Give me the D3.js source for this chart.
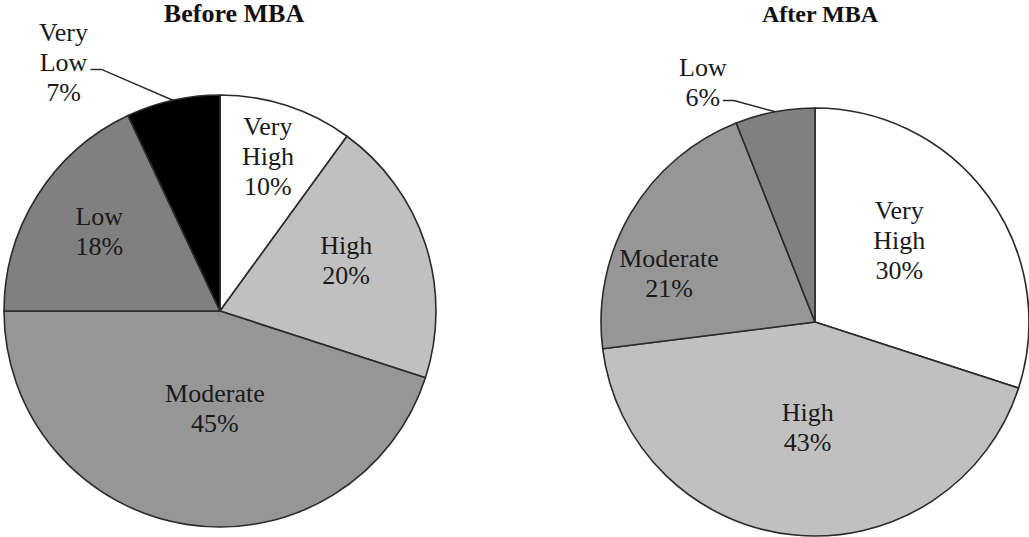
<!DOCTYPE html>
<html><head><meta charset="utf-8">
<script src="https://cdn.jsdelivr.net/npm/d3@7"></script>
<style>body{margin:0;background:#fff}svg{display:block}</style></head>
<body><svg id="chart" width="1029" height="537"></svg>
<script>
// ---- data ----
const titles = ["Before MBA", "After MBA"];
const categoriesBefore = ["Very High", "High", "Moderate", "Low", "Very Low"];
const valuesBefore = [10, 20, 45, 18, 7];
const categoriesAfter = ["Very High", "High", "Moderate", "Low"];
const valuesAfter = [30, 43, 21, 6];

// ---- styles / layout ----
const colorsBefore = ["#ffffff", "#c0c0c0", "#969696", "#808080", "#000000"];
const colorsAfter = ["#ffffff", "#c0c0c0", "#969696", "#808080"];
// label placement: [angle in degrees clockwise from top, radius factor]
const labelPosBefore = [[17.2, 0.75], [68, 0.63], [183, 0.45], [303.5, 0.67], [327.8, 1.36]];
const labelPosAfter = [[45.7, 0.55], [184, 0.49], [288.6, 0.72], [335, 1.24]];
const leaderBefore = [null, null, null, null, [27, 7]];
const leaderAfter = [null, null, null, [20, 19]];

const pies = [
  {title: titles[0], cats: categoriesBefore, vals: valuesBefore, colors: colorsBefore,
   labelPos: labelPosBefore, leader: leaderBefore, cx: 220, cy: 311, r: 216, tx: 234, ty: 22, ts: 26},
  {title: titles[1], cats: categoriesAfter, vals: valuesAfter, colors: colorsAfter,
   labelPos: labelPosAfter, leader: leaderAfter, cx: 815, cy: 322, r: 214, tx: 820, ty: 22, ts: 24}
];

const svg = d3.select("#chart");
const fontFam = "'Liberation Serif','Times New Roman',serif";
const lineH = 30;

pies.forEach(p => {
  const data = p.cats.map((c, i) => ({cat: c, val: p.vals[i], i}));
  const pie = d3.pie().sort(null).value(d => d.val);
  const arcs = pie(data);
  const arc = d3.arc().innerRadius(0).outerRadius(p.r);
  const g = svg.append("g").attr("transform", `translate(${p.cx},${p.cy})`);
  g.selectAll("path").data(arcs).join("path")
    .attr("d", arc)
    .attr("fill", d => p.colors[d.data.i])
    .attr("stroke", "#2a2a2a")
    .attr("stroke-width", 1.6)
    .attr("stroke-linejoin", "round");

  const polar = (deg, rr) => {
    const a = deg * Math.PI / 180;
    return [Math.sin(a) * rr, -Math.cos(a) * rr];
  };

  arcs.forEach(d => {
    const i = d.data.i;
    const [deg, f] = p.labelPos[i];
    const [lx, ly] = polar(deg, f * p.r);
    const lines = d.data.cat.split(" ").concat([d.data.val + "%"]);
    const n = lines.length;
    const t = g.append("text")
      .attr("text-anchor", "middle")
      .attr("font-family", fontFam)
      .attr("font-size", 26)
      .attr("fill", "#1a1a1a");
    lines.forEach((ln, k) => {
      t.append("tspan").attr("x", lx)
        .attr("y", ly + (k - (n - 1) / 2) * lineH + 9)
        .text(ln);
    });
    const ld = p.leader[i];
    if (ld) {
      const mid = (d.startAngle + d.endAngle) / 2 * 180 / Math.PI;
      const [ex, ey] = polar(mid, p.r);
      const sx = lx + ld[0], sy = ly + ld[1];
      g.append("path")
        .attr("d", `M${sx},${sy}L${sx + 11},${sy}L${ex},${ey}`)
        .attr("fill", "none").attr("stroke", "#2a2a2a").attr("stroke-width", 1.5);
    }
  });

  svg.append("text")
    .attr("x", p.tx).attr("y", p.ty)
    .attr("text-anchor", "middle")
    .attr("font-family", fontFam)
    .attr("font-weight", "bold")
    .attr("font-size", p.ts)
    .attr("fill", "#111")
    .text(p.title);
});
</script></body></html>
